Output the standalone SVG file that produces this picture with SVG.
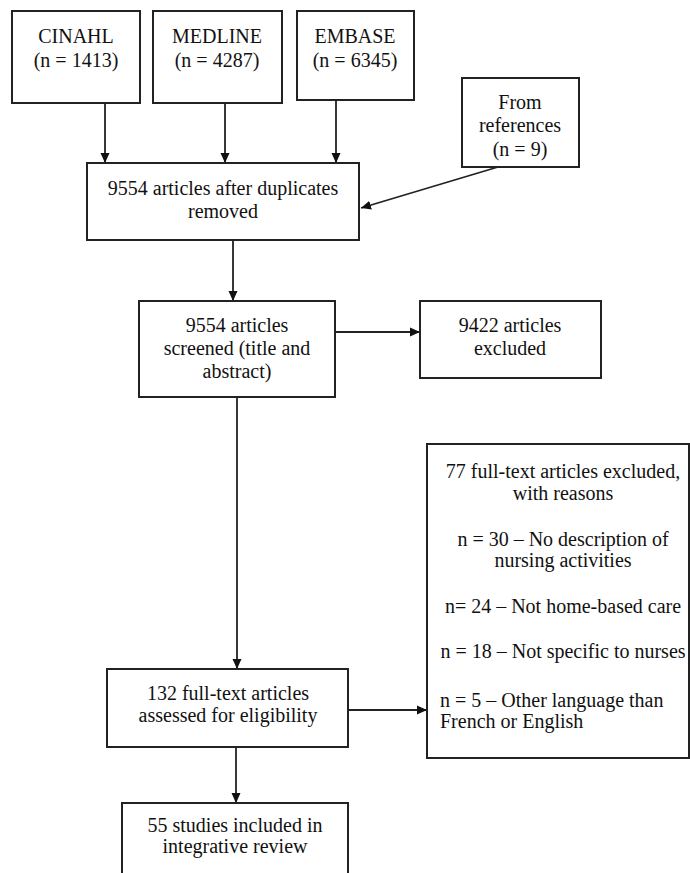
<svg xmlns="http://www.w3.org/2000/svg" width="690" height="873" viewBox="0 0 690 873">
<style>
.box{fill:#fff;stroke:#222;stroke-width:2}
.t{font-family:"Liberation Serif","Times New Roman",serif;font-size:20px;fill:#111;text-anchor:middle}
.l{text-anchor:start}
.c{stroke:#222;stroke-width:1.8;fill:none;marker-end:url(#ah)}
</style>
<defs>
<marker id="ah" markerWidth="10" markerHeight="10" refX="10" refY="5" orient="auto" markerUnits="userSpaceOnUse">
<path d="M0,0.5 L10,5 L0,9.5 Z" fill="#111"/>
</marker>
</defs>
<rect width="690" height="873" fill="#fff"/>
<g id="connectors">
<line class="c" x1="105" y1="103" x2="105" y2="163"/>
<line class="c" x1="225" y1="103" x2="225" y2="163"/>
<line class="c" x1="336" y1="100" x2="336" y2="163"/>
<line class="c" x1="498" y1="167" x2="361" y2="208"/>
<line class="c" x1="233" y1="240" x2="233" y2="301"/>
<line class="c" x1="335" y1="332" x2="420" y2="332"/>
<line class="c" x1="237" y1="397" x2="237" y2="669"/>
<line class="c" x1="348" y1="710" x2="427" y2="710"/>
<line class="c" x1="236" y1="747" x2="236" y2="803"/>
</g>
<g id="cinahl">
<rect class="box" x="12" y="11" width="128" height="92"/>
<text class="t" x="76" y="43">CINAHL</text>
<text class="t" x="76" y="67">(n = 1413)</text>
</g>
<g id="medline">
<rect class="box" x="153" y="11" width="129" height="92"/>
<text class="t" x="217" y="43">MEDLINE</text>
<text class="t" x="217" y="67">(n = 4287)</text>
</g>
<g id="embase">
<rect class="box" x="297" y="11" width="117" height="89"/>
<text class="t" x="355" y="43">EMBASE</text>
<text class="t" x="355" y="67">(n = 6345)</text>
</g>
<g id="references">
<rect class="box" x="462" y="78" width="117" height="89"/>
<text class="t" x="520" y="109">From</text>
<text class="t" x="520" y="132">references</text>
<text class="t" x="520" y="156">(n = 9)</text>
</g>
<g id="duplicates">
<rect class="box" x="87" y="163" width="272" height="77"/>
<text class="t" x="223" y="195">9554 articles  after duplicates</text>
<text class="t" x="223" y="218">removed</text>
</g>
<g id="screened">
<rect class="box" x="139" y="301" width="196" height="96"/>
<text class="t" x="237" y="332">9554 articles</text>
<text class="t" x="237" y="355">screened (title  and</text>
<text class="t" x="237" y="378">abstract)</text>
</g>
<g id="excluded">
<rect class="box" x="420" y="301" width="181" height="77"/>
<text class="t" x="510" y="332">9422 articles</text>
<text class="t" x="510" y="355">excluded</text>
</g>
<g id="fulltext-excluded">
<rect class="box" x="427" y="444" width="262" height="314"/>
<text class="t" x="563" y="478">77 full-text  articles  excluded,</text>
<text class="t" x="563" y="500">with reasons</text>
<text class="t" x="563" y="546">n = 30 – No description  of</text>
<text class="t" x="563" y="567">nursing activities</text>
<text class="t" x="563" y="613">n= 24 – Not home-based  care</text>
<text class="t" x="563" y="658">n = 18 – Not specific to nurses</text>
<text class="t l" x="440" y="707">n = 5 – Other language than</text>
<text class="t l" x="440" y="728">French or English</text>
</g>
<g id="assessed">
<rect class="box" x="107" y="669" width="241" height="78"/>
<text class="t" x="228" y="700">132 full-text  articles</text>
<text class="t" x="228" y="722">assessed for eligibility</text>
</g>
<g id="included">
<rect class="box" x="122" y="803" width="226" height="80"/>
<text class="t" x="235" y="832">55 studies included  in</text>
<text class="t" x="235" y="853">integrative  review</text>
</g>
</svg>
